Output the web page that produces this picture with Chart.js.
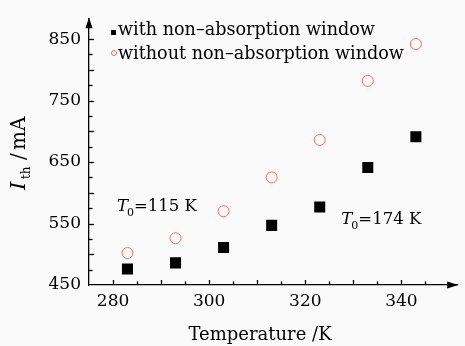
<!DOCTYPE html>
<html><head><meta charset="utf-8">
<script src="https://cdn.jsdelivr.net/npm/chart.js@4/dist/chart.umd.min.js"></script>
<style>html,body{margin:0;padding:0;background:#fafafa;}#w{width:465px;height:346px;}</style>
</head><body><div id="w"><canvas id="c"></canvas></div>
<script>
const temperatures = [283, 293, 303, 313, 323, 333, 343];
const withWindow = [476, 486, 511, 547, 577, 641, 691];
const withoutWindow = [502, 526, 570, 625, 686, 782, 842];
const xTickLabels = [280, 300, 320, 340];
const yTickLabels = [450, 550, 650, 750, 850];
const seriesNames = ['with non\u2013absorption window', 'without non\u2013absorption window'];
const annotations = [
  {T0: '115 K', x: 280.8, y: 571},
  {T0: '174 K', x: 327.5, y: 549}
];
const FONT = '"DejaVu Serif", serif';
const RED = '#ef6f58';

const deco = {
  id: 'deco',
  afterDraw(chart) {
    const ctx = chart.ctx, ca = chart.chartArea;
    const xs = chart.scales.x, ys = chart.scales.y;
    ctx.save();
    ctx.strokeStyle = '#000'; ctx.fillStyle = '#000'; ctx.lineWidth = 1.3;
    // minor/major ticks inward
    for (let v = 280; v <= 345; v += 5) {
      const px = Math.round(xs.getPixelForValue(v)) + 0.5;
      const len = (v % 10 === 0) ? 5 : 3.5;
      ctx.beginPath(); ctx.moveTo(px, ca.bottom); ctx.lineTo(px, ca.bottom - len); ctx.stroke();
    }
    for (let v = 475; v <= 850; v += 25) {
      const py = Math.round(ys.getPixelForValue(v)) + 0.5;
      const len = (v % 50 === 0) ? 5 : 3.5;
      ctx.beginPath(); ctx.moveTo(ca.left, py); ctx.lineTo(ca.left + len, py); ctx.stroke();
    }
    // arrows
    ctx.beginPath();
    ctx.moveTo(ca.left, ca.top - 1); ctx.lineTo(ca.left - 3.5, ca.top + 10); ctx.lineTo(ca.left + 3.5, ca.top + 10); ctx.closePath(); ctx.fill();
    ctx.beginPath();
    ctx.moveTo(ca.right + 1, ca.bottom); ctx.lineTo(ca.right - 10, ca.bottom - 3.5); ctx.lineTo(ca.right - 10, ca.bottom + 3.5); ctx.closePath(); ctx.fill();
    // legend
    ctx.font = '17.6px ' + FONT; ctx.textBaseline = 'alphabetic'; ctx.textAlign = 'left';
    ctx.fillStyle = '#000';
    ctx.fillRect(111, 30, 5, 5);
    ctx.fillText(seriesNames[0], 118, 35);
    ctx.strokeStyle = RED; ctx.lineWidth = 1;
    ctx.beginPath(); ctx.arc(114, 53, 2.5, 0, Math.PI * 2); ctx.stroke();
    ctx.fillText(seriesNames[1], 118, 59);
    // annotations
    annotations.forEach(a => {
      const px = xs.getPixelForValue(a.x), py = ys.getPixelForValue(a.y);
      ctx.font = 'italic 16.5px ' + FONT;
      ctx.fillText('T', px, py);
      let w = ctx.measureText('T').width;
      ctx.font = '11px ' + FONT;
      ctx.fillText('0', px + w - 1, py + 5);
      w += ctx.measureText('0').width - 1;
      ctx.font = '16.5px ' + FONT;
      ctx.fillText('=' + a.T0, px + w, py);
    });
    // x title
    ctx.font = '18px ' + FONT; ctx.textAlign = 'center';
    ctx.fillText('Temperature /K', 260, 340);
    // y title
    ctx.save();
    ctx.translate(25, 190); ctx.rotate(-Math.PI / 2);
    ctx.textAlign = 'left';
    ctx.font = 'italic 21px ' + FONT; ctx.fillText('I', 0, 0);
    ctx.font = '12px ' + FONT; ctx.fillText('th', 11, 5);
    ctx.font = '20px ' + FONT; ctx.fillText('/', 30, 0);
    ctx.fillText('mA', 40, 0);
    ctx.restore();
    ctx.restore();
  }
};

new Chart(document.getElementById('c'), {
  type: 'scatter',
  data: {
    datasets: [
      {label: seriesNames[0], data: temperatures.map((t, i) => ({x: t, y: withWindow[i]})),
       pointStyle: 'rect', pointRadius: 7.8, backgroundColor: '#000', borderColor: '#000', borderWidth: 0},
      {label: seriesNames[1], data: temperatures.map((t, i) => ({x: t, y: withoutWindow[i]})),
       pointStyle: 'circle', pointRadius: 5.5, backgroundColor: 'rgba(0,0,0,0)', borderColor: RED, borderWidth: 1}
    ]
  },
  options: {
    responsive: true, maintainAspectRatio: false, animation: false,
    layout: {padding: {top: 5, right: 2, left: 0, bottom: 0}},
    plugins: {legend: {display: false}, tooltip: {enabled: false}},
    scales: {
      x: {
        type: 'linear', min: 275, max: 351.6,
        grid: {display: false, drawTicks: false},
        border: {display: true, color: '#000', width: 1.3},
        ticks: {padding: 6, color: '#000', font: {family: FONT, size: 17}},
        afterBuildTicks: s => { s.ticks = xTickLabels.map(v => ({value: v})); },
        afterFit: s => { s.height = 61; }
      },
      y: {
        type: 'linear', min: 450, max: 884,
        grid: {display: false, drawTicks: false},
        border: {display: true, color: '#000', width: 1.3},
        ticks: {padding: 8, color: '#000', font: {family: FONT, size: 17}},
        afterBuildTicks: s => { s.ticks = yTickLabels.map(v => ({value: v})); },
        afterFit: s => { s.width = 89; }
      }
    }
  },
  plugins: [deco]
});
</script></body></html>
